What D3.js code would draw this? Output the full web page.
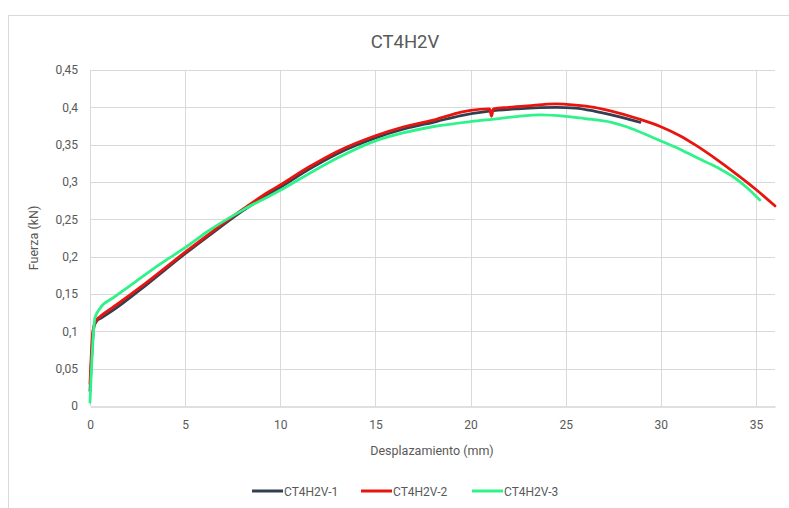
<!DOCTYPE html>
<html>
<head>
<meta charset="utf-8">
<script src="https://cdn.jsdelivr.net/npm/d3@7"></script>
<style>
  body { margin: 0; background: #fff; }
  svg { display: block; }
  text { font-family: Roboto, "Liberation Sans", Arial, sans-serif; fill: #595959; }
</style>
</head>
<body>
<svg id="chart" width="789" height="508"></svg>
<script>
const title = "CT4H2V";
const xTitle = "Desplazamiento (mm)";
const yTitle = "Fuerza (kN)";
const seriesNames = ["CT4H2V-1", "CT4H2V-2", "CT4H2V-3"];
const xTicks = [0, 5, 10, 15, 20, 25, 30, 35];
const yTicks = [0, 0.05, 0.1, 0.15, 0.2, 0.25, 0.3, 0.35, 0.4, 0.45];

const series1 = [[0,0.02],[0.2,0.105],[0.35,0.114],[0.6,0.118],[1.2,0.128],[3,0.163],[5,0.204],[6.5,0.233],[8,0.261],[9.4,0.284],[10,0.293],[11.5,0.317],[13,0.338],[15,0.359],[16.5,0.371],[18.2,0.381],[19.5,0.389],[21,0.395],[22.5,0.398],[24.5,0.4],[25.5,0.399],[26.5,0.395],[27.4,0.390],[28.2,0.385],[28.9,0.38]];
const series2 = [[0,0.03],[0.15,0.1],[0.3,0.114],[0.5,0.119],[1.2,0.132],[3,0.166],[5,0.206],[6.5,0.235],[8,0.263],[9.4,0.287],[10,0.296],[11.5,0.32],[13,0.341],[15,0.362],[16.5,0.374],[18.2,0.384],[19.5,0.3935],[20,0.396],[21,0.398],[21.1,0.388],[21.2,0.398],[22,0.4],[23,0.402],[24.5,0.4045],[25.5,0.403],[26.5,0.4],[27.4,0.395],[28.9,0.384],[30,0.374],[31,0.362],[31.85,0.349],[33,0.329],[33.8,0.314],[35,0.29],[36,0.268]];
const series3 = [[0,0.005],[0.26,0.118],[0.53,0.131],[1.23,0.145],[2.1,0.161],[3.68,0.19],[5,0.212],[6.2,0.234],[8,0.262],[10,0.289],[11.5,0.311],[13,0.332],[15,0.355],[16.5,0.366],[18,0.374],[20,0.381],[21.5,0.385],[22.5,0.388],[23.7,0.39],[25,0.388],[26,0.385],[27.4,0.38],[28.2,0.374],[28.9,0.367],[30,0.355],[31,0.344],[31.85,0.333],[33,0.319],[33.8,0.307],[34.5,0.293],[35.2,0.276]];
const colors = ["#333F50", "#E8150F", "#2EF28A"];

const svg = d3.select("#chart");
const W = 789, H = 508;
const m = { left: 90, right: 14, top: 70, bottom: 102 };

svg.append("rect").attr("x", 8.5).attr("y", 15.5).attr("width", 800).attr("height", 500)
  .attr("fill", "#fff").attr("stroke", "#d9d9d9").attr("stroke-width", 1);

const x = d3.scaleLinear().domain([0, 36]).range([m.left, W - m.right]);
const y = d3.scaleLinear().domain([0, 0.45]).range([H - m.bottom, m.top]);

// gridlines
const g = svg.append("g");
g.selectAll(".hg").data(yTicks.filter(d => d > 0)).enter().append("line")
  .attr("x1", x(0)).attr("x2", x(36)).attr("y1", d => Math.round(y(d)) + 0.5).attr("y2", d => Math.round(y(d)) + 0.5)
  .attr("stroke", "#d9d9d9").attr("stroke-width", 1);
g.selectAll(".vg").data(xTicks).enter().append("line")
  .attr("y1", y(0)).attr("y2", y(0.45)).attr("x1", d => Math.round(x(d)) + 0.5).attr("x2", d => Math.round(x(d)) + 0.5)
  .attr("stroke", "#d9d9d9").attr("stroke-width", 1);

// axes
const fmt = d => d3.format("~g")(d).replace(".", ",");
const xAxis = svg.append("g").attr("transform", `translate(0,${Math.round(y(0)) + 0.5})`)
  .call(d3.axisBottom(x).tickValues(xTicks).tickSize(0).tickPadding(14).tickFormat(fmt));
xAxis.select(".domain").attr("stroke", "#bfbfbf").attr("stroke-width", 1.2);
xAxis.selectAll("text").style("font-size", "12px").attr("fill", "#595959");

const yAxis = svg.append("g").attr("transform", `translate(${x(0)},0)`)
  .call(d3.axisLeft(y).tickValues(yTicks).tickSize(0).tickPadding(12).tickFormat(fmt));
yAxis.select(".domain").remove();
yAxis.selectAll("text").style("font-size", "12px").attr("fill", "#595959");

// lines
const line = d3.line().x(d => x(d[0])).y(d => y(d[1])).curve(d3.curveMonotoneX);
[series1, series2, series3].forEach((s, i) => {
  svg.append("path").datum(s).attr("d", line).attr("fill", "none")
    .attr("stroke", colors[i]).attr("stroke-width", 2.8).attr("stroke-linejoin", "round").attr("stroke-linecap", "round");
});

// titles
svg.append("text").attr("x", 405).attr("y", 48).attr("text-anchor", "middle")
  .style("font-size", "18.5px").text(title);
svg.append("text").attr("x", 432).attr("y", 455).attr("text-anchor", "middle")
  .style("font-size", "12.5px").text(xTitle);
svg.append("text").attr("transform", `translate(38,${(y(0) + y(0.45)) / 2}) rotate(-90)`)
  .attr("text-anchor", "middle").style("font-size", "12.5px").text(yTitle);

// legend
const legX = [252, 361, 472];
seriesNames.forEach((n, i) => {
  svg.append("line").attr("x1", legX[i]).attr("x2", legX[i] + 31).attr("y1", 491).attr("y2", 491)
    .attr("stroke", colors[i]).attr("stroke-width", 3);
  svg.append("text").attr("x", legX[i] + 32).attr("y", 495.5).style("font-size", "12px").text(n);
});
</script>
</body>
</html>
